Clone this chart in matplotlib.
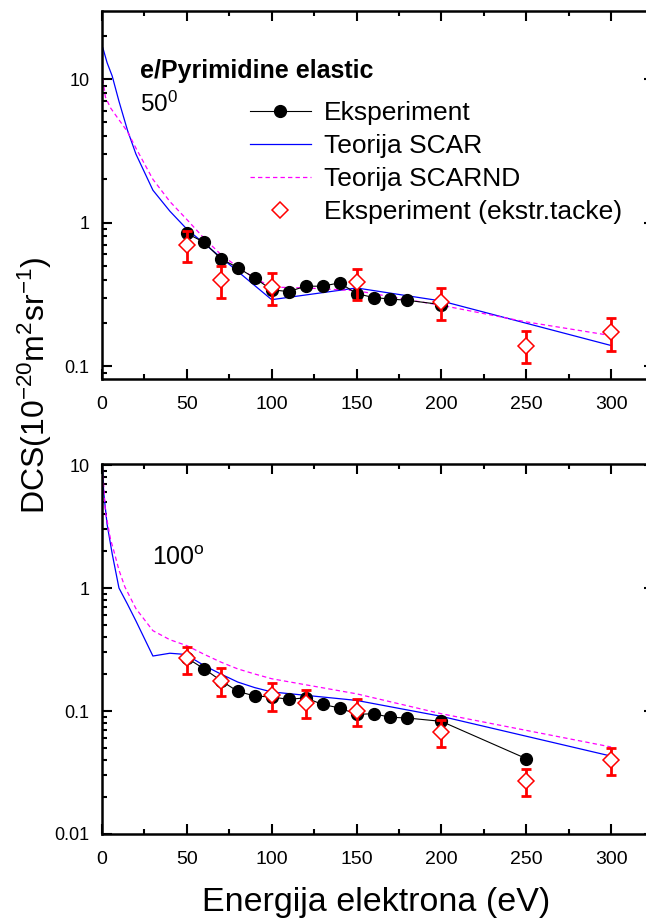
import numpy as np
import matplotlib
matplotlib.use('Agg')
import matplotlib.pyplot as plt
from matplotlib.ticker import LogLocator, FixedLocator, NullFormatter, FuncFormatter

plt.rcParams['font.family'] = ['Liberation Sans', 'DejaVu Sans']
plt.rcParams['mathtext.default'] = 'regular'

# 50 deg
e_exp50 = [50, 60, 70, 80, 90, 100, 110, 120, 130, 140, 150, 160, 170, 180, 200]
dcs_exp50 = [0.84, 0.73, 0.56, 0.485, 0.41, 0.34, 0.33, 0.36, 0.36, 0.38, 0.32, 0.30, 0.293, 0.287, 0.268]

e_scar50 = [0.5, 3, 6, 10, 15, 20, 30, 40, 50, 100, 150, 200, 300]
dcs_scar50 = [16.5, 13.0, 10.5, 7.0, 4.4, 3.0, 1.68, 1.2, 0.9, 0.29, 0.35, 0.284, 0.139]

e_scarnd50 = [0.5, 2, 5, 10, 15, 20, 30, 40, 50, 60, 70, 80, 90, 100, 120, 150, 180, 200, 250, 300]
dcs_scarnd50 = [10.0, 7.5, 6.3, 5.2, 4.3, 3.3, 2.0, 1.4, 1.05, 0.78, 0.6, 0.49, 0.41, 0.355, 0.35, 0.335, 0.29, 0.265, 0.203, 0.163]

e_ext50 = [50, 70, 100, 150, 200, 250, 300]
dcs_ext50 = [0.695, 0.40, 0.356, 0.385, 0.278, 0.139, 0.172]
err_lo50 = [0.53, 0.30, 0.268, 0.287, 0.208, 0.105, 0.128]
err_hi50 = [0.875, 0.50, 0.445, 0.478, 0.35, 0.175, 0.216]

# 100 deg
e_exp100 = [50, 60, 70, 80, 90, 100, 110, 120, 130, 140, 150, 160, 170, 180, 200, 250]
dcs_exp100 = [0.27, 0.221, 0.177, 0.1445, 0.1325, 0.130, 0.1245, 0.128, 0.113, 0.106, 0.094, 0.095, 0.089, 0.0877, 0.0824, 0.041]

e_scar100 = [0.3, 1, 3, 6, 10, 15, 20, 30, 40, 47, 50, 60, 70, 80, 90, 100, 150, 200, 300]
dcs_scar100 = [9.5, 6.0, 3.3, 1.9, 1.0, 0.74, 0.54, 0.28, 0.295, 0.29, 0.285, 0.235, 0.2, 0.172, 0.155, 0.143, 0.122, 0.0905, 0.043]

e_scarnd100 = [0.3, 2, 5, 7, 10, 13.5, 20, 30, 40, 50, 60, 70, 80, 90, 100, 150, 200, 300]
dcs_scarnd100 = [9.5, 4.2, 2.5, 2.0, 1.4, 1.02, 0.68, 0.45, 0.38, 0.34, 0.29, 0.25, 0.22, 0.2, 0.183, 0.138, 0.095, 0.051]

e_ext100 = [50, 70, 100, 120, 150, 200, 250, 300]
dcs_ext100 = [0.27, 0.177, 0.134, 0.116, 0.10, 0.0675, 0.0268, 0.0397]
err_lo100 = [0.199, 0.132, 0.10, 0.088, 0.075, 0.051, 0.0202, 0.0303]
err_hi100 = [0.331, 0.224, 0.169, 0.147, 0.125, 0.085, 0.0339, 0.0503]


def panel(ax, e_exp, dcs_exp, e_s, d_s, e_n, d_n, e_x, d_x, lo, hi, ylim):
    ax.plot(e_s, d_s, color='#0000ff', lw=0.9, zorder=2, label='Teorija SCAR')
    ax.plot(e_n, d_n, color='#ff00ff', lw=0.9, ls=(0, (3.5, 2.5)), zorder=2, label='Teorija SCARND')
    ax.plot(e_exp, dcs_exp, color='k', lw=0.8, marker='o', ms=8.5, mfc='k', mec='k',
            zorder=3, label='Eksperiment')
    d_x = np.array(d_x)
    yerr = [d_x - np.array(lo), np.array(hi) - d_x]
    ax.errorbar(e_x, d_x, yerr=yerr, fmt='none', ecolor='#ff0000', elinewidth=2,
                capsize=3.5, capthick=2, zorder=4)
    ax.plot(e_x, d_x, ls='none', marker='D', ms=8, mfc='white', mec='#ff0000', mew=1.1,
            zorder=5, label='Eksperiment (ekstr.tacke)')

    ax.set_yscale('log')
    ax.set_xlim(0, 325)
    ax.set_ylim(*ylim)
    ax.xaxis.set_major_locator(FixedLocator([0, 50, 100, 150, 200, 250, 300]))
    ax.xaxis.set_minor_locator(FixedLocator([25, 75, 125, 175, 225, 275, 325]))
    ax.yaxis.set_major_locator(LogLocator(base=10, numticks=10))
    ax.yaxis.set_minor_locator(LogLocator(base=10, subs=np.arange(2, 10), numticks=10))
    ax.yaxis.set_minor_formatter(NullFormatter())
    ax.yaxis.set_major_formatter(FuncFormatter(lambda v, p: f'{v:g}'))

    ax.tick_params(axis='both', which='both', direction='in', width=1.5)
    ax.tick_params(axis='x', which='major', length=7.5, top=True, labelsize=14, pad=12)
    ax.tick_params(axis='x', which='minor', length=3.6, top=True)
    ax.tick_params(axis='y', which='major', length=7.5, right=True, labelsize=13, pad=9)
    ax.tick_params(axis='y', which='minor', length=3.6, right=False)
    for s in ax.spines.values():
        s.set_linewidth(1.8)


fig = plt.figure(figsize=(6.46, 9.23), dpi=100)
W, H = 646, 923
ax1 = fig.add_axes([102 / W, 1 - 379 / H, 551.5 / W, 368 / H])
ax2 = fig.add_axes([102 / W, 1 - 834 / H, 551.5 / W, 370 / H])

panel(ax1, e_exp50, dcs_exp50, e_scar50, dcs_scar50, e_scarnd50, dcs_scarnd50,
      e_ext50, dcs_ext50, err_lo50, err_hi50, (0.0812, 29.8))
panel(ax2, e_exp100, dcs_exp100, e_scar100, dcs_scar100, e_scarnd100, dcs_scarnd100,
      e_ext100, dcs_ext100, err_lo100, err_hi100, (0.01, 10.2))

h, l = ax1.get_legend_handles_labels()
order = [2, 0, 1, 3]
ax1.legend([h[i] for i in order], [l[i] for i in order], loc='upper left',
           bbox_to_anchor=(250 / W, 1 - 101 / H), bbox_transform=fig.transFigure,
           frameon=False, fontsize=19, borderpad=0, borderaxespad=0,
           handlelength=2.3, handletextpad=0.5, labelspacing=0.34)

fig.text(140 / W, 1 - 71 / H, 'e/Pyrimidine elastic', fontsize=18, fontweight='bold',
         va='center')
fig.text(140 / W, 1 - 104 / H, '50$^0$', fontsize=17.5, va='center')
fig.text(152 / W, 1 - 558 / H, '100$^o$', fontsize=18, va='center')

fig.text(35 / W, 1 - 385 / H, 'DCS(10$^{-20}$m$^2$sr$^{-1}$)', rotation=90,
         ha='center', va='center', fontsize=23)
fig.text(376 / W, 1 - 902 / H, 'Energija elektrona (eV)', ha='center', va='center',
         fontsize=24.5)

fig.savefig('out.png', dpi=100)
